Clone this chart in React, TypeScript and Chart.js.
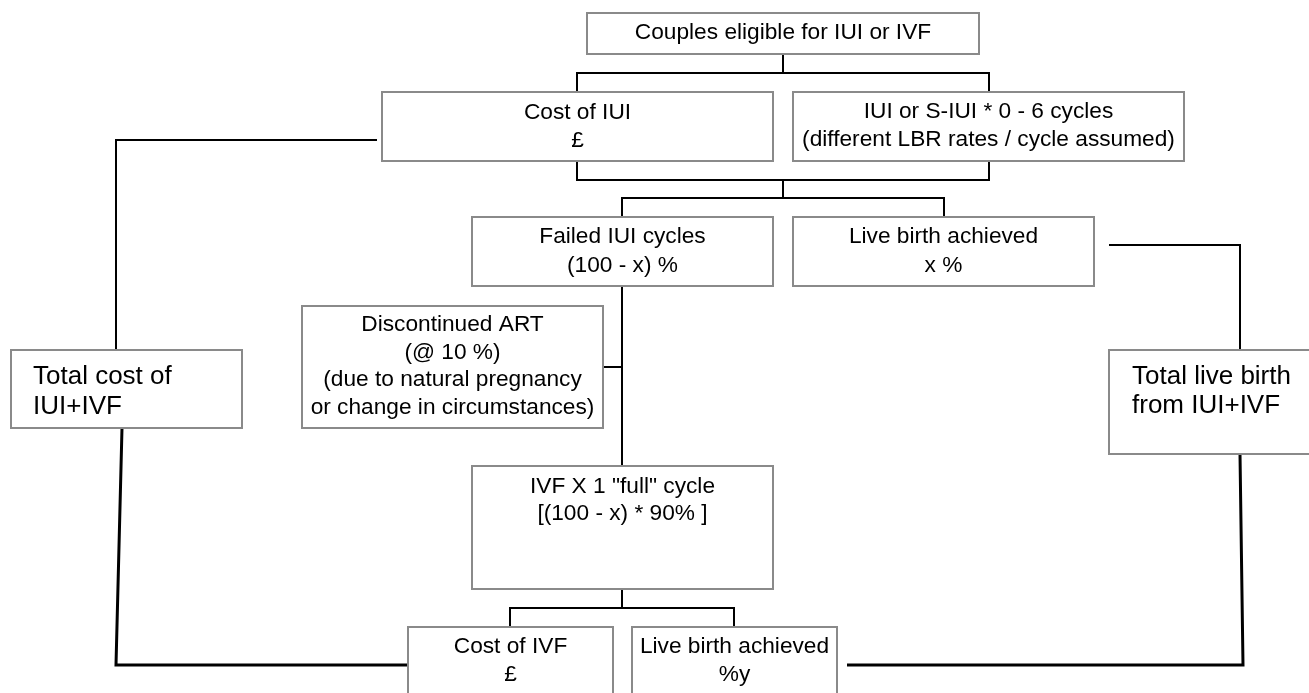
import React, { useEffect, useRef } from "react";
import { Chart, registerables } from "chart.js";

Chart.register(...registerables);

const PAGE_W = 1309;
const PAGE_H = 693;

// ---- flowchart nodes (diagram coordinates) ----
const nodeLines: string[][] = [
  ["Couples eligible for IUI or IVF"],
  ["Cost of IUI", "£"],
  ["IUI or S-IUI * 0 - 6 cycles", "(different LBR rates / cycle assumed)"],
  ["Failed IUI cycles", "(100 - x) %"],
  ["Live birth achieved", "x %"],
  ["Discontinued ART", "(@ 10 %)", "(due to natural pregnancy", "or change in circumstances)"],
  ["IVF X 1 \"full\" cycle", "[(100 - x) * 90% ]"],
  ["Cost of IVF", "£"],
  ["Live birth achieved", "%y"],
  ["Total cost of", "IUI+IVF"],
  ["Total live birth", "from IUI+IVF"],
];
const nodeLeft = [587, 382, 793, 472, 793, 302, 472, 408, 632, 11, 1109];
const nodeTop = [13, 92, 92, 217, 217, 306, 466, 627, 627, 350, 350];
const nodeRight = [979, 773, 1184, 773, 1094, 603, 773, 613, 837, 242, 1330];
const nodeBottom = [54, 161, 161, 286, 286, 428, 589, 710, 710, 428, 454];
const textFirstY = [33, 113, 112, 237, 237, 325, 487, 647, 647, 377, 377];
const textGap = [0, 27.5, 28, 29, 29, 27.5, 27, 28, 28, 30, 29];
const textLeftX = [null, null, null, null, null, null, null, null, null, 33, 1132];
const nodeBig = [false, false, false, false, false, false, false, false, false, true, true];

// ---- connectors (polylines) ----
const connectors: number[][][] = [
  [[783, 54], [783, 73]],
  [[577, 92], [577, 73], [989, 73], [989, 92]],
  [[577, 161], [577, 180], [989, 180], [989, 161]],
  [[783, 180], [783, 198]],
  [[622, 217], [622, 198], [944, 198], [944, 217]],
  [[622, 286], [622, 466]],
  [[603, 367], [622, 367]],
  [[622, 589], [622, 608]],
  [[510, 627], [510, 608], [734, 608], [734, 627]],
  [[377, 140], [116, 140], [116, 350]],
  [[122, 428], [116, 665], [409, 665]],
  [[1109, 245], [1240, 245], [1240, 350]],
  [[1240, 454], [1243, 665], [847, 665]],
];
const connectorHeavy = [false, false, false, false, false, false, false, false, false, false, true, false, true];

const FONT = '"Liberation Sans", Arial, Helvetica, sans-serif';

const textPlugin = {
  id: "flowText",
  afterDatasetsDraw(chart: any) {
    const { ctx } = chart;
    const xs = chart.scales.x;
    const ys = chart.scales.y;
    ctx.save();
    ctx.fillStyle = "#000";
    ctx.textBaseline = "middle";
    nodeLines.forEach((lines, i) => {
      ctx.font = `${nodeBig[i] ? 26 : 22.7}px ${FONT}`;
      const lx = textLeftX[i];
      let px: number;
      if (lx !== null) {
        ctx.textAlign = "left";
        px = xs.getPixelForValue(lx as number);
      } else {
        ctx.textAlign = "center";
        px = xs.getPixelForValue((nodeLeft[i] + nodeRight[i]) / 2);
      }
      lines.forEach((t, k) => {
        const py = ys.getPixelForValue(textFirstY[i] + k * textGap[i]);
        ctx.fillText(t, px, py);
      });
    });
    ctx.restore();
  },
};

export default function App() {
  const ref = useRef<HTMLCanvasElement | null>(null);

  useEffect(() => {
    if (!ref.current) return;
    const boxSets = nodeLines.map((_, i) => ({
      label: "box" + i,
      data: [
        { x: nodeLeft[i], y: nodeTop[i] },
        { x: nodeRight[i], y: nodeTop[i] },
        { x: nodeRight[i], y: nodeBottom[i] },
        { x: nodeLeft[i], y: nodeBottom[i] },
        { x: nodeLeft[i], y: nodeTop[i] },
      ],
      showLine: true,
      borderColor: "#8a8a8a",
      borderWidth: 2,
      borderCapStyle: "square" as const,
      borderJoinStyle: "miter" as const,
      pointRadius: 0,
      pointHoverRadius: 0,
      tension: 0,
      fill: false,
    }));
    const lineSets = connectors.map((pts, i) => ({
      label: "link" + i,
      data: pts.map(([x, y]) => ({ x, y })),
      showLine: true,
      borderColor: "#000",
      borderWidth: connectorHeavy[i] ? 3 : 2,
      borderCapStyle: "butt" as const,
      borderJoinStyle: "miter" as const,
      pointRadius: 0,
      pointHoverRadius: 0,
      tension: 0,
      fill: false,
    }));

    const chart = new Chart(ref.current, {
      type: "scatter",
      data: { datasets: [...boxSets, ...lineSets] as any },
      options: {
        animation: false,
        responsive: true,
        maintainAspectRatio: false,
        events: [],
        layout: { padding: 0 },
        plugins: {
          legend: { display: false },
          tooltip: { enabled: false },
        },
        scales: {
          x: { type: "linear", min: 0, max: PAGE_W, display: false },
          y: { type: "linear", min: 0, max: PAGE_H, reverse: true, display: false },
        },
      },
      plugins: [textPlugin],
    });
    return () => chart.destroy();
  }, []);

  return (
    <div
      style={{
        position: "absolute",
        left: 0,
        top: 0,
        width: PAGE_W,
        height: PAGE_H,
        background: "#fff",
      }}
    >
      <canvas ref={ref} />
    </div>
  );
}
